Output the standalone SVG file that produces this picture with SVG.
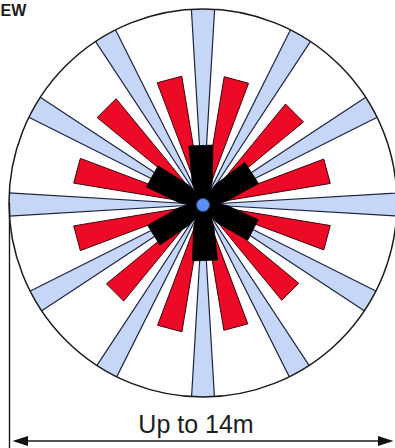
<svg xmlns="http://www.w3.org/2000/svg" xmlns:xlink="http://www.w3.org/1999/xlink" width="395" height="448" viewBox="0 0 395 448">
<style>
.blue{fill:#c6d6f6;stroke:#1c2244;stroke-width:1.2;stroke-linejoin:round}
.red{fill:#ec0a26;stroke:#3a0008;stroke-width:0.9;stroke-linejoin:round}
.blk{fill:#000;stroke:#000;stroke-width:0.8}
.rim{fill:none;stroke:#1a1a1a;stroke-width:1.5}
.dim{stroke:#1a1a1a;stroke-width:1.4;fill:none}
.head{fill:#111}
.lbl{font-family:"Liberation Sans",Arial,sans-serif;fill:#1c1c1c}
</style>
<defs>
<clipPath id="clipc"><circle cx="203" cy="203" r="194"/></clipPath>
<polygon id="bb" points="0,0 215,-12.8 215,12.8"/>
</defs>
<rect width="395" height="448" fill="#fff"/>
<g id="coverage">
<circle cx="203" cy="203" r="194" fill="#fff"/>
<g id="blue-beams" clip-path="url(#clipc)" class="blue">
<use xlink:href="#bb" transform="translate(203,204.5) rotate(0)"/>
<use xlink:href="#bb" transform="translate(203,204.5) rotate(30)"/>
<use xlink:href="#bb" transform="translate(203,204.5) rotate(60)"/>
<use xlink:href="#bb" transform="translate(203,204.5) rotate(90)"/>
<use xlink:href="#bb" transform="translate(203,204.5) rotate(120)"/>
<use xlink:href="#bb" transform="translate(203,204.5) rotate(150)"/>
<use xlink:href="#bb" transform="translate(203,204.5) rotate(180)"/>
<use xlink:href="#bb" transform="translate(203,204.5) rotate(210)"/>
<use xlink:href="#bb" transform="translate(203,204.5) rotate(240)"/>
<use xlink:href="#bb" transform="translate(203,204.5) rotate(270)"/>
<use xlink:href="#bb" transform="translate(203,204.5) rotate(300)"/>
<use xlink:href="#bb" transform="translate(203,204.5) rotate(330)"/>
</g>
<g id="red-beams" class="red">
<polygon points="0,0 129.4,-12.7 129.4,12.7" transform="translate(203,204.5) rotate(-105)"/>
<polygon points="0,0 136.3,-13.4 136.3,13.4" transform="translate(203,204.5) rotate(-135)"/>
<polygon points="0,0 130.4,-12.8 130.4,12.8" transform="translate(203,204.5) rotate(-165)"/>
<polygon points="0,0 128.9,-12.6 128.9,12.6" transform="translate(203,204.5) rotate(-75)"/>
<polygon points="0,0 129.4,-12.7 129.4,12.7" transform="translate(203,204.5) rotate(-45)"/>
<polygon points="0,0 128.4,-12.6 128.4,12.6" transform="translate(203,204.5) rotate(-15)"/>
<polygon points="0,0 130.4,-12.8 130.4,12.8" transform="translate(203,204.5) rotate(165)"/>
<polygon points="0,0 124.4,-12.2 124.4,12.2" transform="translate(203,204.5) rotate(135)"/>
<polygon points="0,0 128.4,-12.6 128.4,12.6" transform="translate(203,204.5) rotate(105)"/>
<polygon points="0,0 128.4,-12.6 128.4,12.6" transform="translate(203,204.5) rotate(15)"/>
<polygon points="0,0 123.4,-12.1 123.4,12.1" transform="translate(203,204.5) rotate(45)"/>
<polygon points="0,0 126.9,-12.4 126.9,12.4" transform="translate(203,204.5) rotate(75)"/>
</g>
<g id="black-zones" class="blk">
<polygon points="0,-4 22,-10 59,-12 59,12 22,10 0,4" transform="translate(203,204.5) rotate(-92)"/>
<polygon points="0,-4 22,-10 58,-12.5 58,12.5 22,10 0,4" transform="translate(203,204.5) rotate(-33)"/>
<polygon points="0,-4 22,-10 58,-12 58,12 22,10 0,4" transform="translate(203,204.5) rotate(-151)"/>
<polygon points="0,-4 22,-10 58,-11.5 58,11.5 22,10 0,4" transform="translate(203,204.5) rotate(148)"/>
<polygon points="0,-4 22,-10 56,-11.5 56,11.5 22,10 0,4" transform="translate(203,204.5) rotate(27)"/>
<polygon points="0,-4 22,-10 56,-12.5 56,12.5 22,10 0,4" transform="translate(203,204.5) rotate(88)"/>
</g>
<circle class="rim" cx="203" cy="203" r="194"/>
<circle id="sensor" cx="203" cy="205" r="6.5" fill="#5b8ff0" stroke="#2b4fa8" stroke-width="0.8"/>
</g>
<g id="connectors">
<line class="dim" x1="9.5" y1="203" x2="9.5" y2="448"/>
<line class="dim" x1="24" y1="441" x2="382" y2="441"/>
<polygon class="head" points="12.5,441 28,436 28,446"/>
<polygon class="head" points="393.5,441 378,436 378,446"/>
</g>
<text class="lbl" x="0.5" y="15.5" font-size="16" font-weight="bold">EW</text>
<text class="lbl" x="196" y="433" font-size="25" text-anchor="middle">Up to 14m</text>
</svg>
